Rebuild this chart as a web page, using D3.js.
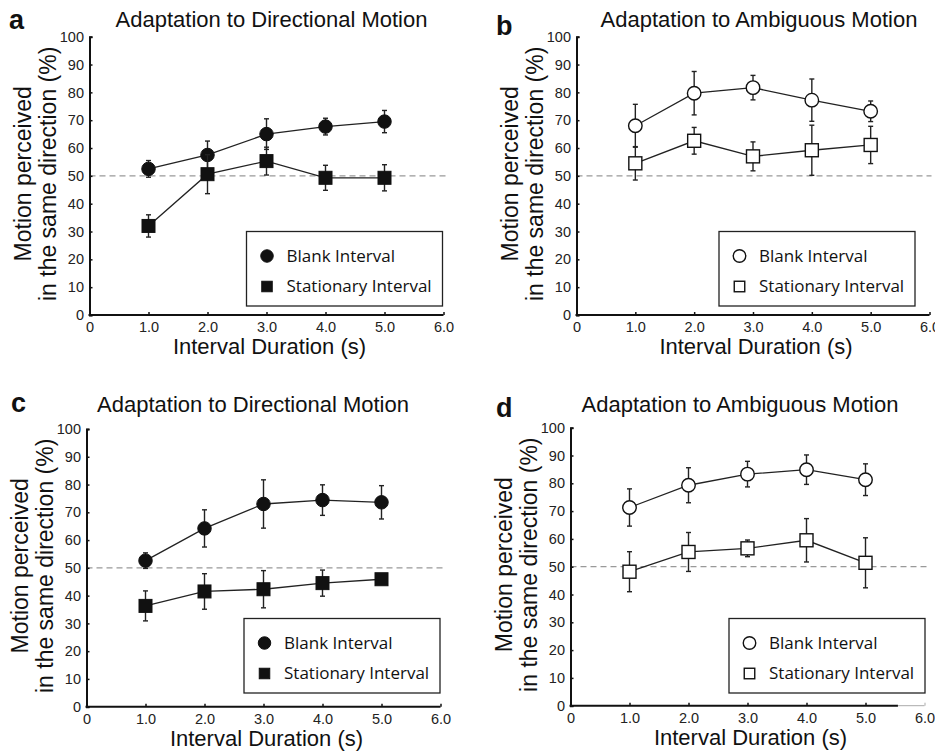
<!DOCTYPE html>
<html>
<head>
<meta charset="utf-8">
<script src="https://cdn.jsdelivr.net/npm/d3@7"></script>
<style>
body { margin: 0; background: #fff; }
svg text { font-family: "Liberation Sans", Arial, sans-serif; }
.legend text { font-family: "Open Sans", "Noto Sans", sans-serif; }
</style>
</head>
<body>
<div id="chart"><svg width="935" height="751"></svg></div>
<script>
var WIDTH = 935;
var HEIGHT = 751;

var durations = [1, 2, 3, 4, 5];
var xTicks = [0, 1, 2, 3, 4, 5, 6];
var yTicks = [0, 10, 20, 30, 40, 50, 60, 70, 80, 90, 100];
var xTickLabels = ['0', '1.0', '2.0', '3.0', '4.0', '5.0', '6.0'];
var seriesNames = ['Blank Interval', 'Stationary Interval'];
var panelTitles = ['Adaptation to Directional Motion', 'Adaptation to Ambiguous Motion',
	'Adaptation to Directional Motion', 'Adaptation to Ambiguous Motion'];
var panelLetters = ['a', 'b', 'c', 'd'];

// mean and error for each panel, blank then stationary
var blankA = [52.5, 57.5, 65, 67.7, 69.5];
var blankErrA = [3, 5, 5.5, 3, 4];
var statA = [32, 50.6, 55.3, 49.3, 49.3];
var statErrA = [4, 7, 5, 4.5, 4.7];

var blankB = [68, 79.7, 81.7, 77.2, 73.2];
var blankErrB = [7.7, 7.8, 4.4, 7.6, 3.7];
var statB = [54.5, 62.6, 57, 59.2, 61.1];
var statErrB = [6, 4.8, 5.2, 9, 6.7];

var blankC = [52.6, 64.2, 73, 74.4, 73.6];
var blankErrC = [2.8, 6.7, 8.7, 5.5, 6];
var statC = [36.3, 41.5, 42.3, 44.5, 45.9];
var statErrC = [5.4, 6.4, 6.7, 4.7, 0.8];

var blankD = [71.3, 79.3, 83.3, 84.9, 81.3];
var blankErrD = [6.7, 6.3, 4.6, 5.3, 5.7];
var statD = [48.2, 55.3, 56.6, 59.5, 51.4];
var statErrD = [7.2, 7, 3, 7.8, 9];

var panels = [
	{blank: blankA, blankErr: blankErrA, stat: statA, statErr: statErrA, filled: true,
		left: 89.5, right: 443.5, top: 36.7, bottom: 315, legendX: 246.5, legendY: 231.5,
		titleX: 271.5, titleY: 27, letterX: 9, letterY: 29},
	{blank: blankB, blankErr: blankErrB, stat: statB, statErr: statErrB, filled: false,
		left: 576.5, right: 929.5, top: 36.7, bottom: 315, legendX: 719, legendY: 231.5,
		titleX: 759, titleY: 27, letterX: 496, letterY: 35},
	{blank: blankC, blankErr: blankErrC, stat: statC, statErr: statErrC, filled: true,
		left: 86.5, right: 440.5, top: 429, bottom: 706.7, legendX: 244, legendY: 618.5,
		titleX: 253, titleY: 411.5, letterX: 11, letterY: 412},
	{blank: blankD, blankErr: blankErrD, stat: statD, statErr: statErrD, filled: false,
		left: 570.5, right: 924.5, top: 427.7, bottom: 705.7, legendX: 729, legendY: 618.5,
		titleX: 740, titleY: 411.5, letterX: 496, letterY: 417, fadedEnd: 5.55}
];

function drawMarker(g, shape, filled, size) {
	var m;
	if (shape == 'circle') {
		m = g.append('circle').attr('r', size/2);
	} else {
		m = g.append('rect')
			.attr('x', -size/2)
			.attr('y', -size/2)
			.attr('width', size)
			.attr('height', size);
	}
	m.attr('fill', filled ? '#111' : '#fff')
		.attr('stroke', '#111')
		.attr('stroke-width', filled ? 1 : 1.4);
	return m;
}

function drawSeries(g, x, y, values, errs, shape, filled) {
	var line = d3.line()
		.x(function(d, i) { return x(durations[i]); })
		.y(function(d) { return y(d); });

	g.append('path')
		.datum(values)
		.attr('d', line)
		.attr('fill', 'none')
		.attr('stroke', '#222')
		.attr('stroke-width', 1.3);

	var bars = g.append('g');
	values.forEach(function(v, i) {
		var cx = x(durations[i]);
		var top = y(v + errs[i]), bot = y(v - errs[i]);
		bars.append('line')
			.attr('x1', cx).attr('x2', cx)
			.attr('y1', top).attr('y2', bot)
			.attr('stroke', '#222').attr('stroke-width', 1.4);
		[top, bot].forEach(function(yy) {
			bars.append('line')
				.attr('x1', cx-2.5).attr('x2', cx+2.5)
				.attr('y1', yy).attr('y2', yy)
				.attr('stroke', '#222').attr('stroke-width', 1.4);
		});
	});

	values.forEach(function(v, i) {
		var m = g.append('g')
			.attr('transform', 'translate('+x(durations[i])+','+y(v)+')');
		drawMarker(m, shape, filled, shape == 'circle' ? 13.5 : 13);
	});
}

function drawPanel(svg, p, idx) {
	var x = d3.scaleLinear().domain([0, 6]).range([p.left, p.right]);
	var y = d3.scaleLinear().domain([0, 100]).range([p.bottom, p.top]);

	var g = svg.append('g');

	// chance level
	g.append('line')
		.attr('x1', x(0)).attr('x2', x(6)+2)
		.attr('y1', y(50)).attr('y2', y(50))
		.attr('stroke', '#999')
		.attr('stroke-width', 1.2)
		.attr('stroke-dasharray', '6,4');

	var yAxis = g.append('g')
		.attr('transform', 'translate('+x(0)+',0)')
		.call(d3.axisLeft(y).tickValues(yTicks).tickSize(-3).tickPadding(5.5).tickFormat(d3.format('d')));
	yAxis.select('.domain').attr('stroke', '#111').attr('stroke-width', 2);
	yAxis.selectAll('.tick line').attr('stroke', '#111').attr('stroke-width', 1.5);
	yAxis.selectAll('text').attr('font-size', 14.5).attr('fill', '#222')
		.attr('font-family', '"Liberation Sans", Arial, sans-serif');

	var xAxis = g.append('g')
		.attr('transform', 'translate(0,'+y(0)+')')
		.call(d3.axisBottom(x).tickValues(xTicks).tickSize(-3).tickPadding(7)
			.tickFormat(function(d, i) { return xTickLabels[i]; }));
	xAxis.select('.domain').remove();
	xAxis.selectAll('.tick line').attr('stroke', '#111').attr('stroke-width', 1.5);
	xAxis.selectAll('text').attr('font-size', 14.5).attr('fill', '#222')
		.attr('font-family', '"Liberation Sans", Arial, sans-serif');

	var darkEnd = p.fadedEnd ? p.fadedEnd : 6;
	g.append('line')
		.attr('x1', x(0)-1).attr('x2', x(darkEnd))
		.attr('y1', y(0)).attr('y2', y(0))
		.attr('stroke', '#111').attr('stroke-width', 2);
	if (p.fadedEnd) {
		g.append('line')
			.attr('x1', x(darkEnd)).attr('x2', x(6))
			.attr('y1', y(0)).attr('y2', y(0))
			.attr('stroke', '#aaa').attr('stroke-width', 1);
		xAxis.selectAll('.tick line').filter(function(d) { return d > darkEnd; })
			.attr('stroke', '#aaa').attr('stroke-width', 1);
	}

	drawSeries(g, x, y, p.blank, p.blankErr, 'circle', p.filled);
	drawSeries(g, x, y, p.stat, p.statErr, 'square', p.filled);

	// legend
	var lg = g.append('g').attr('class', 'legend')
		.attr('transform', 'translate('+p.legendX+','+p.legendY+')');
	lg.append('rect')
		.attr('width', 196).attr('height', 74.5)
		.attr('fill', '#fff').attr('stroke', '#222').attr('stroke-width', 1.3);
	seriesNames.forEach(function(name, i) {
		var row = lg.append('g').attr('transform', 'translate(20.5,'+(24.5+i*30.5)+')');
		drawMarker(row, i == 0 ? 'circle' : 'square', p.filled, i == 0 ? 12.5 : 10.5);
		row.append('text')
			.attr('x', 19.5).attr('y', 5.5)
			.attr('font-size', 17)
			.attr('fill', '#111')
			.text(name);
	});

	// titles
	g.append('text')
		.attr('x', p.titleX).attr('y', p.titleY)
		.attr('text-anchor', 'middle')
		.attr('font-size', 22)
		.attr('fill', '#111')
		.text(panelTitles[idx]);

	g.append('text')
		.attr('x', p.letterX).attr('y', p.letterY)
		.attr('font-size', 27)
		.attr('font-weight', 'bold')
		.attr('fill', '#111')
		.text(panelLetters[idx]);

	var midX = (x(0)+x(6))/2;
	g.append('text')
		.attr('x', midX+3).attr('y', y(0)+39)
		.attr('text-anchor', 'middle')
		.attr('font-size', 22)
		.attr('fill', '#111')
		.text('Interval Duration (s)');

	var midY = (y(0)+y(100))/2 - 2;
	var yl = g.append('text')
		.attr('transform', 'translate('+(x(0)-58.5)+','+midY+') rotate(-90)')
		.attr('text-anchor', 'middle')
		.attr('font-size', 23)
		.attr('fill', '#111');
	yl.append('tspan').attr('x', 0).attr('y', 0).text('Motion perceived');
	yl.append('tspan').attr('x', 0).attr('y', 24.5).text('in the same direction (%)');
}

function init() {
	var svg = d3.select('#chart').select('svg');
	panels.forEach(function(p, i) { drawPanel(svg, p, i); });
}

init();
</script>
</body>
</html>
